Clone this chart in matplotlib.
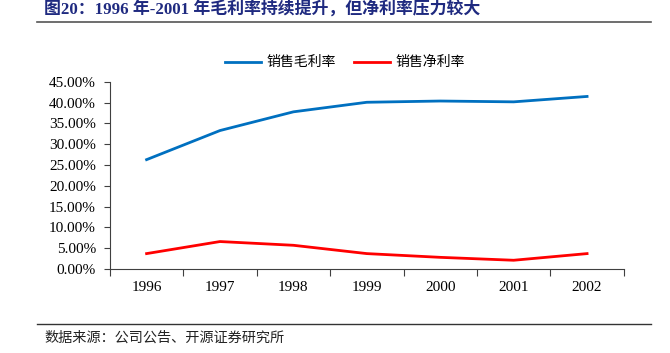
import matplotlib
matplotlib.use('Agg')
import matplotlib.pyplot as plt
from matplotlib.ticker import PercentFormatter, FixedLocator

plt.rcParams['font.family'] = ['Liberation Serif', 'Noto Sans CJK SC', 'DejaVu Sans']

years = ['1996', '1997', '1998', '1999', '2000', '2001', '2002']
gross_margin = [26.3, 33.3, 37.8, 40.1, 40.4, 40.2, 41.5]
net_margin = [3.7, 6.6, 5.7, 3.7, 2.8, 2.1, 3.7]
y_ticks = [0, 5, 10, 15, 20, 25, 30, 35, 40, 45]

title = '图20：1996 年-2001 年毛利率持续提升，但净利率压力较大'
source = '数据来源：公司公告、开源证券研究所'
cjk = ['Noto Sans CJK SC', 'DejaVu Sans']

fig = plt.figure(figsize=(6.7, 3.53), dpi=100)
ax = fig.add_axes([0.164, 0.238, 0.767, 0.530])

x = list(range(len(years)))
ax.plot(x, gross_margin, color='#0070C0', lw=2.0, label='销售毛利率')
ax.plot(x, net_margin, color='#FF0000', lw=2.0, label='销售净利率')

ax.set_xlim(-0.5, len(years) - 0.5)
ax.set_ylim(0, 45)
ax.set_yticks(y_ticks)
ax.yaxis.set_major_formatter(PercentFormatter(decimals=2))
ax.set_xticks(x)
ax.set_xticklabels(years)
ax.xaxis.set_minor_locator(FixedLocator([i - 0.5 for i in range(len(years) + 1)]))
ax.tick_params(axis='x', which='major', length=0, pad=9, labelsize=11)
ax.tick_params(axis='x', which='minor', length=5, color='#404040', width=0.8)
ax.tick_params(axis='y', length=4, color='#404040', width=0.8, labelsize=11, pad=6)

for s in ['top', 'right']:
    ax.spines[s].set_visible(False)
for s in ['left', 'bottom']:
    ax.spines[s].set_color('#404040')
    ax.spines[s].set_linewidth(0.8)

leg = ax.legend(loc='lower center', bbox_to_anchor=(0.457, 1.0), ncol=2, frameon=False,
                prop={'family': cjk, 'size': 10}, handlelength=2.6, columnspacing=1.3,
                handletextpad=0.4)

fig.text(0.066, 0.995, title, color='#1F2A80', fontsize=12.2, fontweight='bold',
         va='top', ha='left', family=['Liberation Serif', 'Noto Sans CJK SC', 'DejaVu Sans'])
fig.add_artist(plt.Line2D([0.055, 0.972], [1 - 22 / 353, 1 - 22 / 353], color='#555555', lw=1.2))
fig.add_artist(plt.Line2D([0.055, 0.972], [1 - 324 / 353, 1 - 324 / 353], color='#333333', lw=1.0))
fig.text(0.066, 1 - 338 / 353, source, fontsize=10.2, va='center', ha='left', family=cjk, color='#222222')

fig.savefig('out.png', dpi=100)
